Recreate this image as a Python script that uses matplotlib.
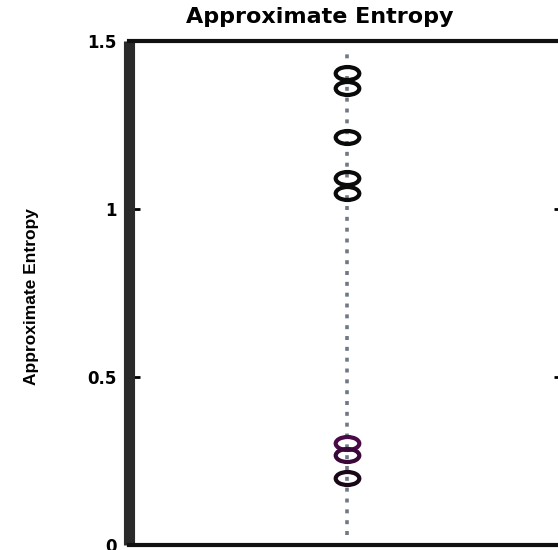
import matplotlib
matplotlib.use("Agg")
import matplotlib.pyplot as plt
from matplotlib.path import Path
from matplotlib.transforms import Affine2D

# values
apen_values = [1.405, 1.36, 1.214, 1.092, 1.048, 0.304, 0.268, 0.199]
apen_colors = ["#0a0a0a", "#0a0a0a", "#0a0a0a", "#0a0a0a", "#0a0a0a",
               "#4a0a48", "#3a0838", "#1a0818"]
line_range = [0.03, 1.47]
yticks = [0, 0.5, 1, 1.5]
ytick_labels = ["0", "0.5", "1", "1.5"]

fig = plt.figure(figsize=(5.58, 5.50), dpi=100)
ax = fig.add_axes([0.231, 0.009, 0.781, 0.9165])

# dotted vertical line
ax.plot([1, 1], line_range, color="#707884", lw=2.6,
        linestyle=(0, (1.1, 1.9)), solid_capstyle="butt", zorder=1)

# flattened circles
ell = Path.unit_circle().transformed(Affine2D().scale(1.0, 0.55))
for v, c in zip(apen_values, apen_colors):
    ax.plot([1], [v], marker=ell, markersize=17, markerfacecolor="none",
            markeredgecolor=c, markeredgewidth=3, linestyle="none", zorder=3)

ax.set_xlim(0.5, 1.5)
ax.set_ylim(0, 1.5)
ax.set_xticks([])
ax.set_yticks(yticks)
ax.set_yticklabels(ytick_labels, fontsize=12, fontweight="bold")
ax.tick_params(axis="y", direction="in", length=8, width=2, pad=9,
               right=True, left=True)

for s in ["top", "bottom", "right"]:
    ax.spines[s].set_linewidth(3)
    ax.spines[s].set_color("#111111")
ax.spines["left"].set_linewidth(8)
ax.spines["left"].set_color("#2a2a2a")
ax.spines["left"].set_capstyle("butt")

fig.text(320 / 558, 0.969, "Approximate Entropy", ha="center", va="center",
         fontsize=16, fontweight="bold")
fig.text(0.057, 0.46, "Approximate Entropy", ha="center", va="center",
         rotation=90, fontsize=12.5, fontweight="bold",
         family=["Liberation Sans", "DejaVu Sans"])

fig.savefig("out.png", dpi=100)
